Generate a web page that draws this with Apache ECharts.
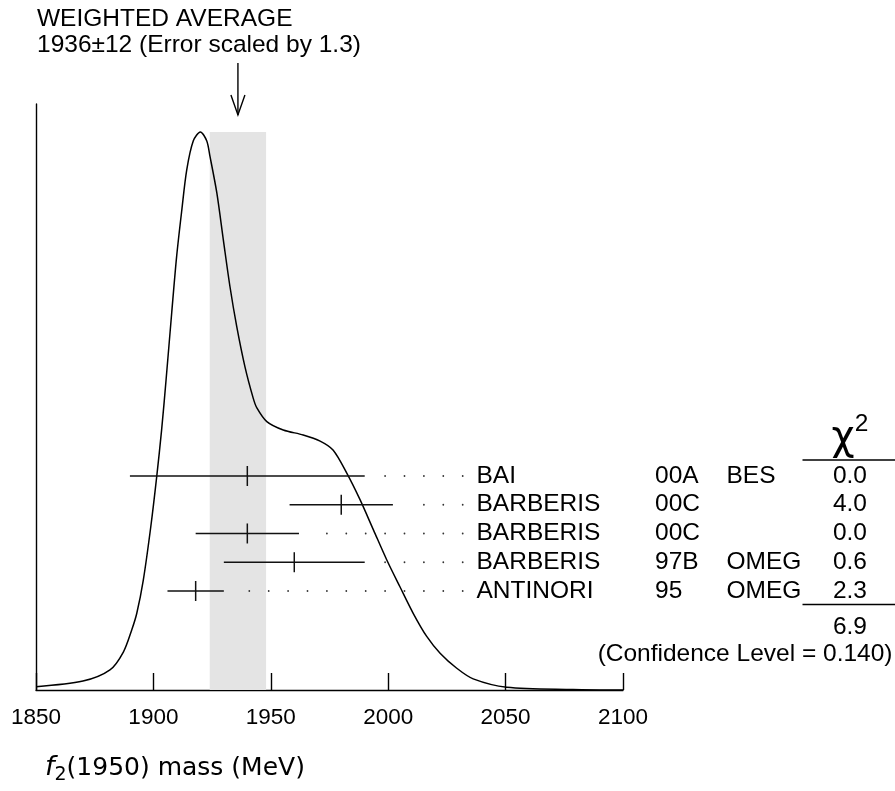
<!DOCTYPE html>
<html><head><meta charset="utf-8">
<script src="https://cdn.jsdelivr.net/npm/echarts@6/dist/echarts.min.js"></script>
<style>html,body{margin:0;padding:0;background:#fff}#c{width:895px;height:791px}</style>
</head><body><div id="c"></div>
<script>
// ---- data ----
const massTicks = [1850, 1900, 1950, 2000, 2050, 2100];
const idMass = [1850, 1870, 1881.5, 1887.2, 1890.8, 1892.9, 1895.7, 1898.9, 1901.4, 1903.5, 1905.4, 1907.8, 1909.9, 1912.1, 1914.2, 1917, 1920, 1922.7, 1924.1, 1927, 1929.8, 1932.6, 1935.5, 1939, 1942.5, 1944, 1948.3, 1955.3, 1963.8, 1971, 1976.5, 1982.3, 1988, 1993.7, 1999.4, 2005, 2010.7, 2016.4, 2022.1, 2029.2, 2036.2, 2050.5, 2078.7, 2100];
const idHeight = [0.006, 0.016, 0.036, 0.068, 0.108, 0.137, 0.197, 0.293, 0.382, 0.466, 0.556, 0.676, 0.777, 0.860, 0.932, 0.984, 1.0, 0.984, 0.956, 0.891, 0.806, 0.723, 0.651, 0.579, 0.523, 0.506, 0.481, 0.466, 0.457, 0.446, 0.430, 0.389, 0.341, 0.287, 0.233, 0.185, 0.137, 0.096, 0.066, 0.039, 0.020, 0.005, 0.001, 0.0];
const names = ['BAI', 'BARBERIS', 'BARBERIS', 'BARBERIS', 'ANTINORI'];
const years = ['00A', '00C', '00C', '97B', '95'];
const experiments = ['BES', '', '', 'OMEG', 'OMEG'];
const masses = [1940, 1980, 1940, 1960, 1918];
const errors = [50, 22, 22, 30, 12];
const chi2 = ['0.0', '4.0', '0.0', '0.6', '2.3'];
const chi2Total = '6.9';
const confText = '(Confidence Level = 0.140)';
const avgMass = 1936, avgErr = 12;
const headerLines = ['WEIGHTED AVERAGE', '1936\u00b112 (Error scaled by 1.3)'];

// ---- layout ----
const FONT = '"Liberation Sans", Arial, Helvetica, sans-serif';
const COL_NAME = 476.5, COL_YEAR = 655, COL_EXP = 726.5, COL_CHI = 867, DOT0 = 462.7, DOT_STEP = 19.4;
const TXT = 24.5;

const chart = echarts.init(document.getElementById('c'));
const black = '#000';

const option = {
  animation: false,
  backgroundColor: '#fff',
  grid: [
    {left: 36, right: 272, top: 104, bottom: 101},
    {left: 36, right: 272, top: 461.6, height: 143.75}
  ],
  xAxis: [
    {type: 'value', gridIndex: 0, min: massTicks[0], max: massTicks[massTicks.length - 1], interval: 50,
     axisLine: {show: true, onZero: false, lineStyle: {color: black, width: 1.4}},
     axisTick: {show: true, inside: true, length: 17, lineStyle: {color: black, width: 1.4}},
     axisLabel: {margin: 16, fontSize: 22.5, color: black, fontFamily: FONT, formatter: v => String(v)},
     splitLine: {show: false}},
    {type: 'value', gridIndex: 1, min: massTicks[0], max: massTicks[massTicks.length - 1], show: false}
  ],
  yAxis: [
    {type: 'value', gridIndex: 0, min: 0, max: 1.05,
     axisLine: {show: true, onZero: false, lineStyle: {color: black, width: 1.4}},
     axisTick: {show: false}, axisLabel: {show: false}, splitLine: {show: false}},
    {type: 'category', gridIndex: 1, inverse: true, data: names.map((n, i) => String(i)), show: false}
  ],
  series: [
    {
      type: 'custom', xAxisIndex: 0, yAxisIndex: 0, z: 1, silent: true,
      data: [[avgMass - avgErr, avgMass + avgErr, Math.max(...idHeight)]],
      renderItem: function (params, api) {
        const p1 = api.coord([api.value(0), api.value(2)]);
        const p2 = api.coord([api.value(1), 0]);
        return {type: 'rect', shape: {x: p1[0], y: p1[1], width: p2[0] - p1[0], height: p2[1] - p1[1]},
                style: {fill: '#e4e4e4'}};
      }
    },
    {
      type: 'line', xAxisIndex: 0, yAxisIndex: 0, z: 3, silent: true,
      data: idMass.map((m, i) => [m, idHeight[i]]),
      showSymbol: false, smooth: 0.3,
      lineStyle: {color: black, width: 1.5}
    },
    {
      type: 'custom', xAxisIndex: 0, yAxisIndex: 0, z: 4, silent: true, clip: false,
      data: [[avgMass]],
      renderItem: function (params, api) {
        const x = api.coord([api.value(0), 0])[0];
        return {type: 'group', children: [
          {type: 'line', shape: {x1: x, y1: 63, x2: x, y2: 115}, style: {stroke: black, lineWidth: 1.4}},
          {type: 'polyline', shape: {points: [[x - 7, 95], [x, 115], [x + 7, 95]]}, style: {stroke: black, lineWidth: 1.4, fill: null}}
        ]};
      }
    },
    {
      type: 'custom', xAxisIndex: 1, yAxisIndex: 1, z: 5, silent: true, clip: false,
      data: masses.map((m, i) => [m - errors[i], m, m + errors[i], i]),
      encode: {x: [0, 1, 2], y: 3},
      renderItem: function (params, api) {
        const i = api.value(3);
        const lo = api.coord([api.value(0), i]);
        const c = api.coord([api.value(1), i]);
        const hi = api.coord([api.value(2), i]);
        const y = c[1];
        const ch = [
          {type: 'line', shape: {x1: lo[0], y1: y, x2: hi[0], y2: y}, style: {stroke: '#111', lineWidth: 1.5}},
          {type: 'line', shape: {x1: c[0], y1: y - 10, x2: c[0], y2: y + 10}, style: {stroke: '#111', lineWidth: 1.5}}
        ];
        for (let x = DOT0; x > hi[0] + 15; x -= DOT_STEP) {
          ch.push({type: 'circle', shape: {cx: x, cy: y, r: 0.9}, style: {fill: '#333'}});
        }
        const t = (txt, x, align) => ({type: 'text', x: x, y: y,
          style: {text: txt, fontSize: TXT, fontFamily: FONT, fill: black, align: align, verticalAlign: 'middle'}});
        ch.push(t(names[i], COL_NAME, 'left'));
        ch.push(t(years[i], COL_YEAR, 'left'));
        ch.push(t(experiments[i], COL_EXP, 'left'));
        ch.push(t(chi2[i], COL_CHI, 'right'));
        return {type: 'group', children: ch};
      }
    }
  ],
  graphic: [
    {type: 'text', x: 37, y: 19.5, style: {text: headerLines[0], fontSize: TXT, fontFamily: FONT, fill: black, verticalAlign: 'middle'}},
    {type: 'text', x: 37, y: 45.5, style: {text: headerLines[1], fontSize: TXT, fontFamily: FONT, fill: black, verticalAlign: 'middle'}},
    {type: 'text', x: 843, y: 439, style: {text: '\u03c7', fontSize: 40, fontFamily: '"DejaVu Sans", sans-serif', fill: black, align: 'center', verticalAlign: 'middle'}},
    {type: 'text', x: 861.5, y: 424, style: {text: '2', fontSize: TXT, fontFamily: FONT, fill: black, align: 'center', verticalAlign: 'middle'}},
    {type: 'line', shape: {x1: 802.5, y1: 460, x2: 895, y2: 460}, style: {stroke: black, lineWidth: 1.3}},
    {type: 'line', shape: {x1: 802.5, y1: 604.5, x2: 895, y2: 604.5}, style: {stroke: black, lineWidth: 1.3}},
    {type: 'text', x: COL_CHI, y: 627, style: {text: chi2Total, fontSize: TXT, fontFamily: FONT, fill: black, align: 'right', verticalAlign: 'middle'}},
    {type: 'text', x: 892.5, y: 654.5, style: {text: confText, fontSize: TXT, fontFamily: FONT, fill: black, align: 'right', verticalAlign: 'middle'}},
    {type: 'text', x: 45, y: 768, style: {
      text: '{f|f}{s|2}{n|(1950) mass (MeV)}', verticalAlign: 'middle',
      rich: {
        f: {fontSize: 27, fontFamily: '"DejaVu Sans", sans-serif', fontStyle: 'italic', fill: black, lineHeight: 34},
        s: {fontSize: 19, fontFamily: '"DejaVu Sans", sans-serif', fill: black, lineHeight: 19, verticalAlign: 'bottom'},
        n: {fontSize: 25, fontFamily: '"DejaVu Sans", sans-serif', fill: black, lineHeight: 34}
      }}}
  ]
};
chart.setOption(option);
</script>
</body></html>
